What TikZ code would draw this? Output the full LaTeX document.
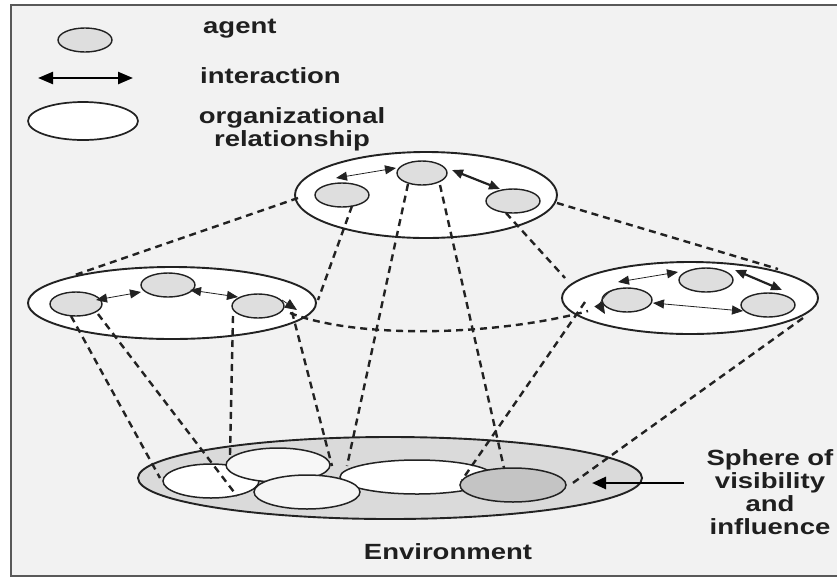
\documentclass[tikz,border=0pt]{standalone}
\usepackage{fontspec}
\usetikzlibrary{shapes.geometric,arrows.meta}
\newfontfamily\labfont[FakeStretch=1.25]{Liberation Sans Bold}
\definecolor{bgray}{HTML}{F2F2F2}
\definecolor{agentfill}{HTML}{DEDEDE}
\definecolor{envfill}{HTML}{DADADA}
\definecolor{darkfill}{HTML}{C4C4C4}
\definecolor{inkc}{HTML}{222222}
\tikzset{
  agent/.style={ellipse, draw=inkc, line width=1.4pt, fill=agentfill, inner sep=0pt,
                minimum width=54pt, minimum height=24pt},
  group/.style={ellipse, draw=inkc, line width=1.9pt, fill=white, inner sep=0pt},
  orgpart/.style={ellipse, draw=inkc, line width=1.5pt, fill=white, inner sep=0pt,
                minimum height=34pt},
  link/.style={draw=inkc, line width=2.4pt, dash pattern=on 7pt off 5pt},
  inter/.style={{Triangle[length=11pt,width=9pt]}-{Triangle[length=11pt,width=9pt]}, line width=0.8pt, draw=inkc},
  interthick/.style={{Triangle[length=11pt,width=9pt]}-{Triangle[length=11pt,width=9pt]}, line width=2.2pt, draw=inkc},
  lab/.style={font=\labfont\fontsize{22}{23}\selectfont, text=black!88, inner sep=0pt}
}
\begin{document}
\begin{tikzpicture}[x=1pt,y=-1pt]
\useasboundingbox (0,0) rectangle (837,579);
\fill[white] (0,0) rectangle (837,579);
\draw[fill=bgray, draw=black!65, line width=2pt] (11,5) rectangle (840,576);

% ---------- legend ----------
\node[agent] (lgagent) at (85,40) {};
\node[lab, anchor=base west] (tagent) at (203,33) {agent};
\coordinate (lgl) at (38,78);
\coordinate (lgr) at (133,78);
\draw[{Triangle[length=15pt,width=12pt]}-{Triangle[length=15pt,width=12pt]}, line width=2.4pt, draw=black] (lgl) -- (lgr);
\node[lab, anchor=base west] (tinter) at (200,83) {interaction};
\node[group, line width=1.7pt, minimum width=110pt, minimum height=38pt] (lgorg) at (83,121) {};
\node[lab, anchor=north, align=center] (torg) at (292,107) {organizational\\relationship};

% ---------- environment ----------
\node[ellipse, draw=inkc, line width=1.9pt, fill=envfill, inner sep=0pt,
      minimum width=504pt, minimum height=82pt] (E) at (390,478) {};
\node[orgpart, minimum width=96pt] (e1) at (211,481) {};
\node[orgpart, minimum width=104pt, fill=white!97!black] (e2) at (278,465) {};
\node[orgpart, minimum width=154pt] (e4) at (417,477) {};
\node[orgpart, minimum width=106pt, fill=white!96!black] (e3) at (307,492) {};
\node[orgpart, minimum width=106pt, fill=darkfill] (e5) at (513,485) {};
\node[lab, anchor=base] (tenv) at (448,559) {Environment};

% ---------- groups ----------
\node[group, minimum width=262pt, minimum height=86pt] (T) at (426,195) {};
\node[agent] (ta) at (342,195) {};
\node[agent, minimum width=50pt] (tb) at (422,173) {};
\node[agent] (tc) at (513,201) {};

\node[group, minimum width=288pt, minimum height=72pt] (L) at (172,303) {};
\node[agent, minimum width=52pt] (la) at (76,304) {};
\node[agent] (lb) at (168,285) {};
\node[agent, minimum width=52pt] (lc) at (258,306) {};

\node[group, minimum width=256pt, minimum height=72pt] (R) at (690,298) {};
\node[agent, minimum width=50pt] (ra) at (627,300) {};
\node[agent] (rb) at (706,280) {};
\node[agent] (rc) at (768,305) {};

% ---------- interactions ----------
\draw[inter] (336,178) -- (396,168);
\draw[interthick] (452,170) -- (500,189);
\draw[inter] (96,300) -- (141,292);
\draw[inter] (190,290) -- (238,297);
\draw[-{Triangle[length=12pt,width=10pt]}, line width=0.8pt, draw=inkc] (282,300) -- (297,310);
\draw[inter] (618,282) -- (678,272);
\draw[interthick] (735,270) -- (782,290);
\draw[inter] (653,303) -- (743,311);
\draw[-{Triangle[length=12pt,width=10pt]}, line width=0.8pt, draw=inkc] (613,290) to[bend right=50] (605,314);

% ---------- dashed links ----------
\coordinate (p1) at (72,276);
\coordinate (p2) at (778,269);
\coordinate (p3) at (565,278);
\coordinate (p4) at (318,300);
\coordinate (p5) at (347,466);
\coordinate (p6) at (504,468);
\coordinate (p8) at (160,478);
\coordinate (p9) at (237,496);
\coordinate (p10) at (230,455);
\coordinate (p11) at (332,466);
\coordinate (p12) at (462,480);
\coordinate (p13) at (570,485);
\draw[link] (298,198) -- (p1);
\draw[link] (557,203) -- (p2);
\draw[link] (506,213) -- (p3);
\draw[link] (352,206) -- (p4);
\draw[link] (408,184) -- (p5);
\draw[link] (440,185) -- (p6);
\draw[link] (290,313) .. controls (360,340) and (500,335) .. (588,311);
\draw[link] (71,316) -- (p8);
\draw[link] (98,314) -- (p9);
\draw[link] (233,316) -- (p10);
\draw[link] (292,312) -- (p11);
\draw[link] (585,302) -- (p12);
\draw[link] (803,318) -- (p13);

% ---------- sphere label ----------
\coordinate (sphtip) at (592,483);
\draw[-{Triangle[length=14pt,width=12pt]}, line width=2.6pt, draw=black] (684,483) -- (sphtip);
\node[lab, anchor=north, align=center] (tsph) at (770,449) {Sphere of\\visibility\\and\\influence};
\end{tikzpicture}
\end{document}
